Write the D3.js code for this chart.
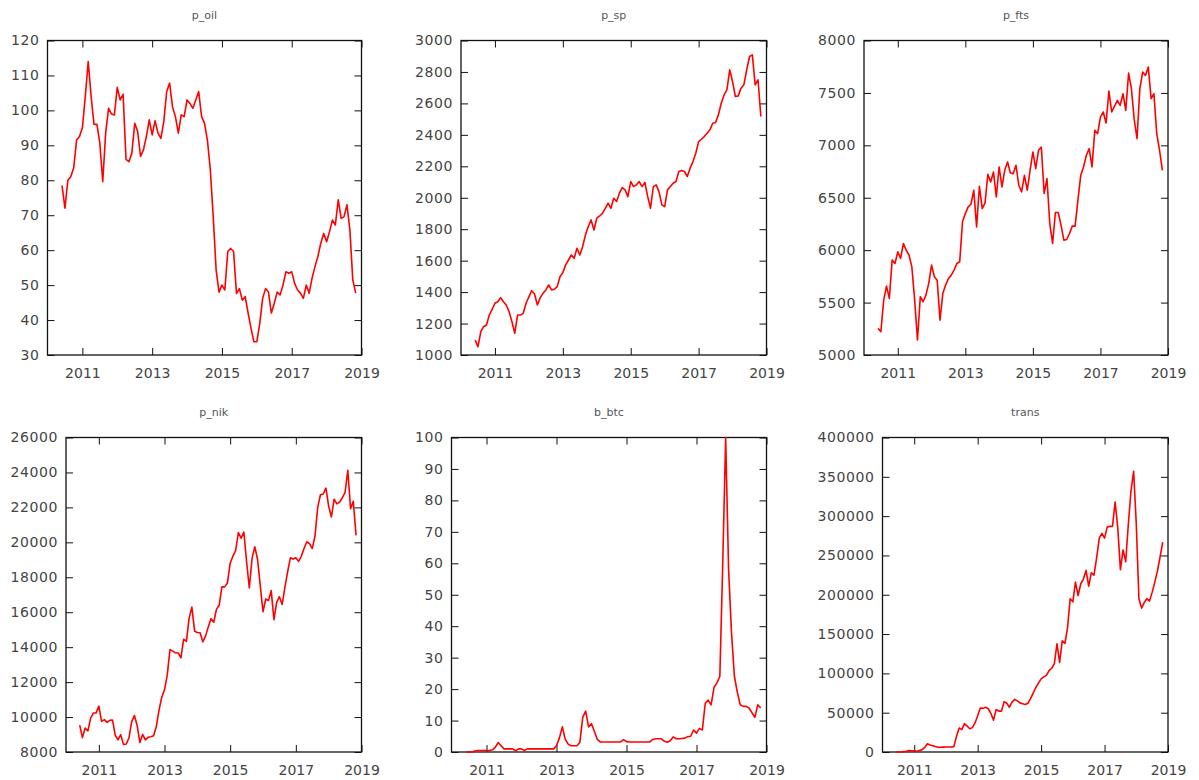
<!DOCTYPE html>
<html>
<head>
<meta charset="utf-8">
<script src="https://cdn.jsdelivr.net/npm/d3@7"></script>
<style>
  body { margin: 0; background: #fff; }
  text { font-family: "DejaVu Sans", Verdana, sans-serif; }
</style>
</head>
<body>
<svg width="1199" height="780"></svg>
<script>
// monthly observations, first one plotted at 2010 + 5/12
const firstObs = 2010 + 5 / 12

const p_oil = [78.5, 72, 80, 81, 83.5, 91.5, 92.5, 95, 104, 114,
  104, 96, 96, 90.6, 79.6, 93.5, 100.6, 99, 98.7, 106.6,
  103, 104.6, 86, 85.3, 87.7, 96.3, 94, 86.8, 88.7, 92.5,
  97.3, 93, 97, 93.5, 92, 96.8, 105.4, 107.8, 101, 98.2,
  93.5, 98.7, 98.2, 103, 102, 100.6, 103, 105.4, 98.2, 96.3,
  91.5, 83, 69.6, 54.3, 48, 50, 48.6, 59.6, 60.5, 59.6,
  47.6, 49, 45.7, 46.7, 42, 37.6, 33.8, 33.8, 39, 46.2,
  49, 48, 42, 44.8, 48, 47.2, 50, 53.8, 53.4, 53.8,
  50.5, 48.6, 47.7, 46.2, 50, 47.7, 52, 55.3, 58.2, 62,
  64.8, 62.4, 65.3, 68.6, 67.2, 74.4, 69.1, 69.6, 73, 65.8,
  51.5, 47.7]

const p_sp = [1095, 1053, 1148, 1180, 1191, 1254, 1290, 1329, 1339, 1365,
  1339, 1318, 1276, 1212, 1138, 1254, 1254, 1265, 1329, 1370,
  1409, 1388, 1318, 1365, 1392, 1414, 1445, 1414, 1418, 1435,
  1498, 1524, 1573, 1604, 1636, 1615, 1679, 1636, 1689, 1764,
  1817, 1859, 1795, 1870, 1884, 1901, 1933, 1965, 1933, 1997,
  1976, 2029, 2065, 2050, 2007, 2103, 2071, 2082, 2103, 2071,
  2097, 2007, 1933, 2071, 2082, 2039, 1955, 1944, 2050, 2071,
  2092, 2103, 2167, 2173, 2167, 2135, 2188, 2230, 2283, 2357,
  2372, 2389, 2410, 2432, 2474, 2478, 2527, 2601, 2654, 2686,
  2813, 2739, 2644, 2648, 2697, 2718, 2813, 2898, 2909, 2718,
  2750, 2517]

const p_fts = [5254, 5222, 5524, 5657, 5540, 5905, 5873, 5984, 5921, 6064,
  6000, 5952, 5841, 5524, 5143, 5556, 5508, 5571, 5683, 5857,
  5746, 5714, 5333, 5587, 5667, 5730, 5762, 5810, 5873, 5889,
  6270, 6349, 6413, 6438, 6572, 6222, 6610, 6397, 6451, 6724,
  6651, 6746, 6508, 6794, 6603, 6762, 6841, 6737, 6730, 6810,
  6619, 6556, 6714, 6572, 6762, 6937, 6778, 6953, 6984, 6540,
  6683, 6254, 6064, 6359, 6359, 6238, 6095, 6102, 6159, 6229,
  6229, 6476, 6714, 6794, 6905, 6968, 6794, 7143, 7111, 7270,
  7318, 7213, 7518, 7318, 7372, 7429, 7381, 7492, 7334, 7689,
  7540, 7245, 7064, 7540, 7699, 7667, 7746, 7445, 7492, 7111,
  6953, 6762]

const p_nik = [9537, 8824, 9369, 9202, 9937, 10229, 10238, 10624, 9755, 9850,
  9694, 9816, 9833, 8955, 8700, 8988, 8435, 8455, 8803, 9723,
  10084, 9521, 8543, 9007, 8695, 8840, 8870, 8928, 9446, 10395,
  11139, 11559, 12398, 13861, 13775, 13677, 13668, 13389, 14456, 14328,
  15662, 16291, 14915, 14841, 14828, 14304, 14632, 15162, 15621, 15425,
  16174, 16414, 17460, 17451, 17674, 18798, 19207, 19520, 20563, 20236,
  20585, 18890, 17388, 19083, 19747, 19034, 17518, 16027, 16759, 16666,
  17235, 15576, 16569, 16887, 16450, 17425, 18308, 19114, 19041, 19119,
  18909, 19197, 19651, 20033, 19925, 19646, 20356, 22012, 22725, 22765,
  23098, 22068, 21454, 22468, 22202, 22305, 22554, 22865, 24120, 21920,
  22351, 20400]

const b_btc = [0, 0, 0, 0.3, 0.5, 0.5, 0.5, 0.5, 0.5, 0.7,
  1.5, 3, 2, 1, 1, 1, 1, 0.4, 1, 1,
  0.5, 1, 1, 1, 1, 1, 1, 1, 1, 1,
  1, 2, 4.5, 8, 4, 2.5, 2, 2, 2, 3,
  11, 13, 8, 9, 6.5, 4, 3.2, 3.2, 3.2, 3.2,
  3.2, 3.2, 3.2, 3.2, 3.9, 3.3, 3.2, 3.2, 3.2, 3.2,
  3.2, 3.2, 3.2, 3.2, 4, 4.2, 4.2, 4.2, 3.4, 3.1,
  3.6, 4.8, 4.2, 4.2, 4.3, 4.4, 4.9, 5, 7, 6,
  7.5, 7, 15.5, 16.5, 15, 20.5, 22, 24, 60, 100,
  58, 38, 24, 19, 15, 14.5, 14.5, 14, 12.5, 11,
  15, 14]

const trans = [0, 0, 0, 500, 1000, 2000, 1500, 1500, 1000, 2000,
  3000, 6000, 10500, 9000, 8000, 7000, 6000, 6000, 6200, 6300,
  6400, 6500, 6800, 20000, 30500, 28500, 36000, 33000, 29500, 31000,
  37000, 46000, 56000, 55500, 57000, 55000, 49000, 40500, 54000, 52000,
  52000, 64000, 62000, 57000, 63500, 67000, 65000, 62500, 61500, 60500,
  62000, 68000, 75000, 82000, 87500, 93000, 95500, 97500, 103500, 106500,
  112000, 137500, 114000, 141500, 138000, 158000, 195000, 191000, 216000, 199000,
  214000, 220000, 231000, 211000, 228000, 225000, 247000, 272000, 278000, 272000,
  286000, 287000, 287000, 318000, 285000, 232000, 257000, 242000, 290000, 332000,
  357000, 290000, 195000, 183000, 190000, 195000, 192000, 203000, 216000, 230000,
  248000, 267000]

const xTicks = [2011, 2013, 2015, 2017, 2019]
const oilTicks = [30, 40, 50, 60, 70, 80, 90, 100, 110, 120]
const spTicks = [1000, 1200, 1400, 1600, 1800, 2000, 2200, 2400, 2600, 2800, 3000]
const ftsTicks = [5000, 5500, 6000, 6500, 7000, 7500, 8000]
const nikTicks = [8000, 10000, 12000, 14000, 16000, 18000, 20000, 22000, 24000, 26000]
const btcTicks = [0, 10, 20, 30, 40, 50, 60, 70, 80, 90, 100]
const transTicks = [0, 50000, 100000, 150000, 200000, 250000, 300000, 350000, 400000]

// frame of each panel in page pixels
const panels = [
  { title: 'p_oil', values: p_oil, ticks: oilTicks, x0: 47.5, y0: 40.5, x1: 361.5, y1: 355 },
  { title: 'p_sp', values: p_sp, ticks: spTicks, x0: 461, y0: 40.5, x1: 766.5, y1: 355 },
  { title: 'p_fts', values: p_fts, ticks: ftsTicks, x0: 864, y0: 40.5, x1: 1168, y1: 355 },
  { title: 'p_nik', values: p_nik, ticks: nikTicks, x0: 66, y0: 437.5, x1: 361.5, y1: 752 },
  { title: 'b_btc', values: b_btc, ticks: btcTicks, x0: 451.5, y0: 437.5, x1: 766.5, y1: 752 },
  { title: 'trans', values: trans, ticks: transTicks, x0: 882.5, y0: 437.5, x1: 1168, y1: 752 }
]

const svg = d3.select('svg')
const fmt = d3.format('d')

panels.forEach(p => {
  const x = d3.scaleLinear().domain([2010, 2019]).range([p.x0, p.x1])
  const y = d3.scaleLinear().domain(d3.extent(p.ticks)).range([p.y1, p.y0])
  const g = svg.append('g')

  const styleAxis = sel => {
    sel.select('.domain').remove()
    sel.selectAll('line').attr('stroke', '#111').attr('stroke-width', 1)
    sel.selectAll('text').attr('fill', '#444').attr('font-size', '14px')
  }

  g.append('g')
    .attr('transform', `translate(${p.x0},0)`)
    .call(d3.axisLeft(y).tickValues(p.ticks).tickSizeInner(-7).tickSizeOuter(0)
      .tickPadding(8).tickFormat(fmt))
    .call(styleAxis)
    .selectAll('text').attr('letter-spacing', '0.6px')

  g.append('g')
    .attr('transform', `translate(${p.x1},0)`)
    .call(d3.axisRight(y).tickValues(p.ticks).tickSizeInner(-7).tickSizeOuter(0).tickFormat(''))
    .call(styleAxis)

  g.append('g')
    .attr('transform', `translate(0,${p.y1})`)
    .call(d3.axisBottom(x).tickValues(xTicks).tickSizeInner(-7).tickSizeOuter(0)
      .tickPadding(13).tickFormat(fmt))
    .call(styleAxis)

  g.append('g')
    .attr('transform', `translate(0,${p.y0})`)
    .call(d3.axisTop(x).tickValues(xTicks).tickSizeInner(-7).tickSizeOuter(0).tickFormat(''))
    .call(styleAxis)

  g.append('rect')
    .attr('x', p.x0).attr('y', p.y0)
    .attr('width', p.x1 - p.x0).attr('height', p.y1 - p.y0)
    .attr('fill', 'none').attr('stroke', '#111').attr('stroke-width', 1.3)

  const line = d3.line()
    .x((d, i) => x(firstObs + i / 12))
    .y(d => y(d))

  g.append('path')
    .datum(p.values)
    .attr('d', line)
    .attr('fill', 'none')
    .attr('stroke', '#ff0000')
    .attr('stroke-width', 1.6)
    .attr('stroke-linejoin', 'round')

  g.append('text')
    .attr('x', (p.x0 + p.x1) / 2)
    .attr('y', p.y0 - 21.5)
    .attr('text-anchor', 'middle')
    .attr('fill', '#555')
    .attr('font-size', '11px')
    .text(p.title)
})
</script>
</body>
</html>
